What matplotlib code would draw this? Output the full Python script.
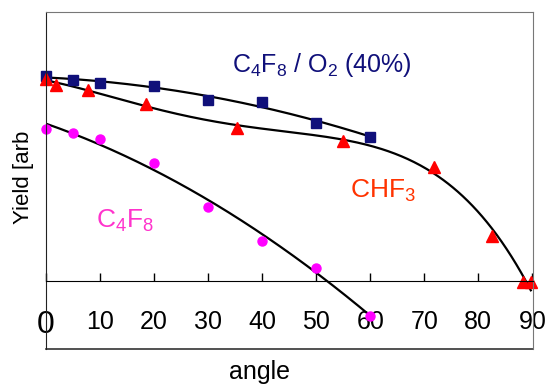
import numpy as np
import matplotlib
matplotlib.use("Agg")
import matplotlib.pyplot as plt

plt.rcParams['font.family'] = ['Liberation Sans', 'DejaVu Sans']
plt.rcParams['mathtext.default'] = 'regular'

# C4F8 / O2 (40%)
o2_angle = [0, 5, 10, 20, 30, 40, 50, 60]
o2_yield = [1.0, 0.98, 0.967, 0.952, 0.883, 0.872, 0.772, 0.704]

# CHF3
chf3_angle = [0, 1.9, 7.7, 18.5, 35.3, 55, 71.8, 82.5, 88.3, 89.7]
chf3_yield = [0.985, 0.956, 0.932, 0.863, 0.748, 0.684, 0.558, 0.22, -0.006, -0.006]

# C4F8
c4f8_angle = [0, 5, 10, 20, 30, 40, 50, 60]
c4f8_yield = [0.74, 0.723, 0.691, 0.577, 0.362, 0.195, 0.065, -0.169]

xticks = [0, 10, 20, 30, 40, 50, 60, 70, 80, 90]

navy = '#10107a'
red = '#ff0000'
magenta = '#ff00ff'

fig = plt.figure(figsize=(5.52, 3.87), dpi=100)
ax = fig.add_axes([0.0833, 0.0982, 0.8822, 0.8708])

# fitted trend lines
xs = np.linspace(0, 60, 200)
ax.plot(xs, np.polyval(np.polyfit(o2_angle, o2_yield, 2), xs), color='black', lw=1.6)
xs = np.linspace(0, 89.7, 300)
ax.plot(xs, np.polyval(np.polyfit(chf3_angle, chf3_yield, 4), xs), color='black', lw=1.6, clip_on=False)
xs = np.linspace(0, 60, 200)
ax.plot(xs, np.polyval(np.polyfit(c4f8_angle, c4f8_yield, 2), xs), color='black', lw=1.6)

ax.plot(o2_angle, o2_yield, 's', color=navy, ms=7, clip_on=False)
ax.plot(chf3_angle, chf3_yield, '^', color=red, ms=8, clip_on=False)
ax.plot(c4f8_angle, c4f8_yield, 'o', color=magenta, ms=6.5, clip_on=False)

ax.set_xlim(0, 90.1)
ax.set_ylim(-0.332, 1.312)

# x axis drawn at zero, box kept around the plot
ax.spines['bottom'].set_position(('data', 0))
ax.spines['bottom'].set_color('black')
ax.plot([0, 1], [0, 0], transform=ax.transAxes, color='#333333', lw=1.2, clip_on=False)
for s in ['top', 'right']:
    ax.spines[s].set_color('#777777')
ax.spines['left'].set_color('#222222')

ax.set_xticks(xticks)
ax.set_xticklabels([str(t) for t in xticks])
ax.tick_params(axis='x', direction='in', length=6, width=1, labelsize=18, pad=21)
ax.get_xticklabels()[0].set_fontsize(23)
ax.set_yticks([])

ax.text(34.4, 1.02, r'C$_4$F$_8$ / O$_2$ (40%)', color=navy, fontsize=18, va='baseline')
ax.text(56.3, 0.405, r'CHF$_3$', color='#ff3300', fontsize=19, va='baseline')
ax.text(9.3, 0.259, r'C$_4$F$_8$', color='#ff33cc', fontsize=19, va='baseline')

fig.text(260 / 552, 1 - 372 / 387, 'angle', fontsize=18, ha='center', va='center')
fig.text(23 / 552, 1 - 177 / 387, 'Yield [arb', fontsize=16, rotation=90, ha='center', va='center')

fig.savefig('out.png', dpi=100)
